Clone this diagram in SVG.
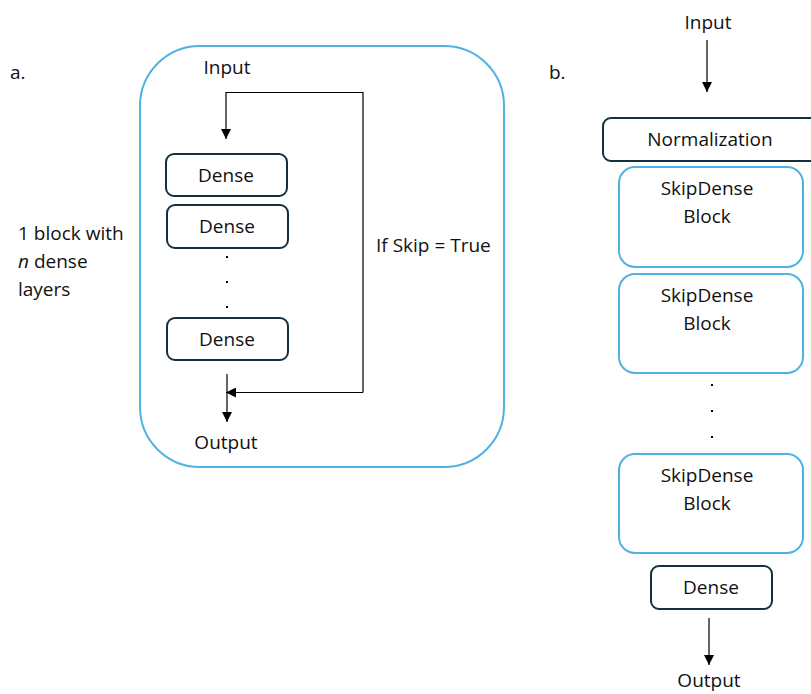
<svg xmlns="http://www.w3.org/2000/svg" width="811" height="694" viewBox="0 0 811 694">
<defs>
<marker id="ah" viewBox="0 0 10 10" refX="10" refY="5" markerWidth="10" markerHeight="10" markerUnits="userSpaceOnUse" orient="auto">
<path d="M0,0 L10,5 L0,10 Z" fill="#000"/>
</marker>
<style>
text{font-family:"Open Sans","Liberation Sans",Arial,sans-serif;font-size:19px;fill:#111}
.c{text-anchor:middle}
.dense{fill:#fff;stroke:#14303e;stroke-width:2}
.blue{fill:#fff;stroke:#4eb3e2;stroke-width:2}
.ln{fill:none;stroke:#000;stroke-width:1.2}
.dot{fill:#000}
</style>
</defs>
<rect width="811" height="694" fill="#fff"/>
<text x="10" y="79">a.</text>
<text x="549" y="79">b.</text>
<g id="note-a">
<text x="18" y="240">1 block with</text>
<text x="18" y="268"><tspan font-style="italic">n</tspan> dense</text>
<text x="18" y="296">layers</text>
</g>
<g id="block-a">
<rect class="blue" x="140" y="46" width="364" height="421" rx="60"/>
</g>
<g id="input-a"><text class="c" x="227" y="74">Input</text></g>
<g id="dense-1"><rect class="dense" x="166" y="154" width="121" height="42" rx="8"/><text class="c" x="226" y="182">Dense</text></g>
<g id="dense-2"><rect class="dense" x="167" y="205" width="121" height="43" rx="8"/><text class="c" x="227" y="233">Dense</text></g>
<g id="dots-a"><rect class="dot" x="226" y="256" width="2" height="2"/><rect class="dot" x="226" y="281" width="2" height="2"/><rect class="dot" x="226" y="306" width="2" height="2"/></g>
<g id="dense-3"><rect class="dense" x="167" y="318" width="121" height="42" rx="8"/><text class="c" x="227" y="346">Dense</text></g>
<g id="output-a"><text class="c" x="226" y="449">Output</text></g>
<g id="skip-label"><text x="376" y="252">If Skip = True</text></g>
<g id="input-b"><text class="c" x="708" y="29">Input</text></g>
<g id="norm"><rect class="dense" x="603" y="118" width="215" height="43" rx="8"/><text class="c" x="710" y="146">Normalization</text></g>
<g id="skip-1"><rect class="blue" x="619" y="167" width="184" height="100" rx="16"/><text class="c" x="707" y="195">SkipDense</text><text class="c" x="707" y="223">Block</text></g>
<g id="skip-2"><rect class="blue" x="619" y="274" width="184" height="99" rx="16"/><text class="c" x="707" y="302">SkipDense</text><text class="c" x="707" y="330">Block</text></g>
<g id="dots-b"><rect class="dot" x="711" y="384" width="2" height="2"/><rect class="dot" x="711" y="410" width="2" height="2"/><rect class="dot" x="711" y="436" width="2" height="2"/></g>
<g id="skip-3"><rect class="blue" x="619" y="454" width="184" height="99" rx="16"/><text class="c" x="707" y="482">SkipDense</text><text class="c" x="707" y="510">Block</text></g>
<g id="dense-b"><rect class="dense" x="651" y="566" width="121" height="43" rx="8"/><text class="c" x="711" y="594">Dense</text></g>
<g id="output-b"><text class="c" x="709" y="687">Output</text></g>
<g id="connectors">
<path class="ln" d="M363,392.5 V92.5 H226 V139" marker-end="url(#ah)"/>
<path class="ln" d="M363,392.5 H226" marker-end="url(#ah)"/>
<path class="ln" d="M227,374 V422" marker-end="url(#ah)"/>
<path class="ln" d="M707,40 V92" marker-end="url(#ah)"/>
<path class="ln" d="M709,618 V665" marker-end="url(#ah)"/>
</g>
</svg>
